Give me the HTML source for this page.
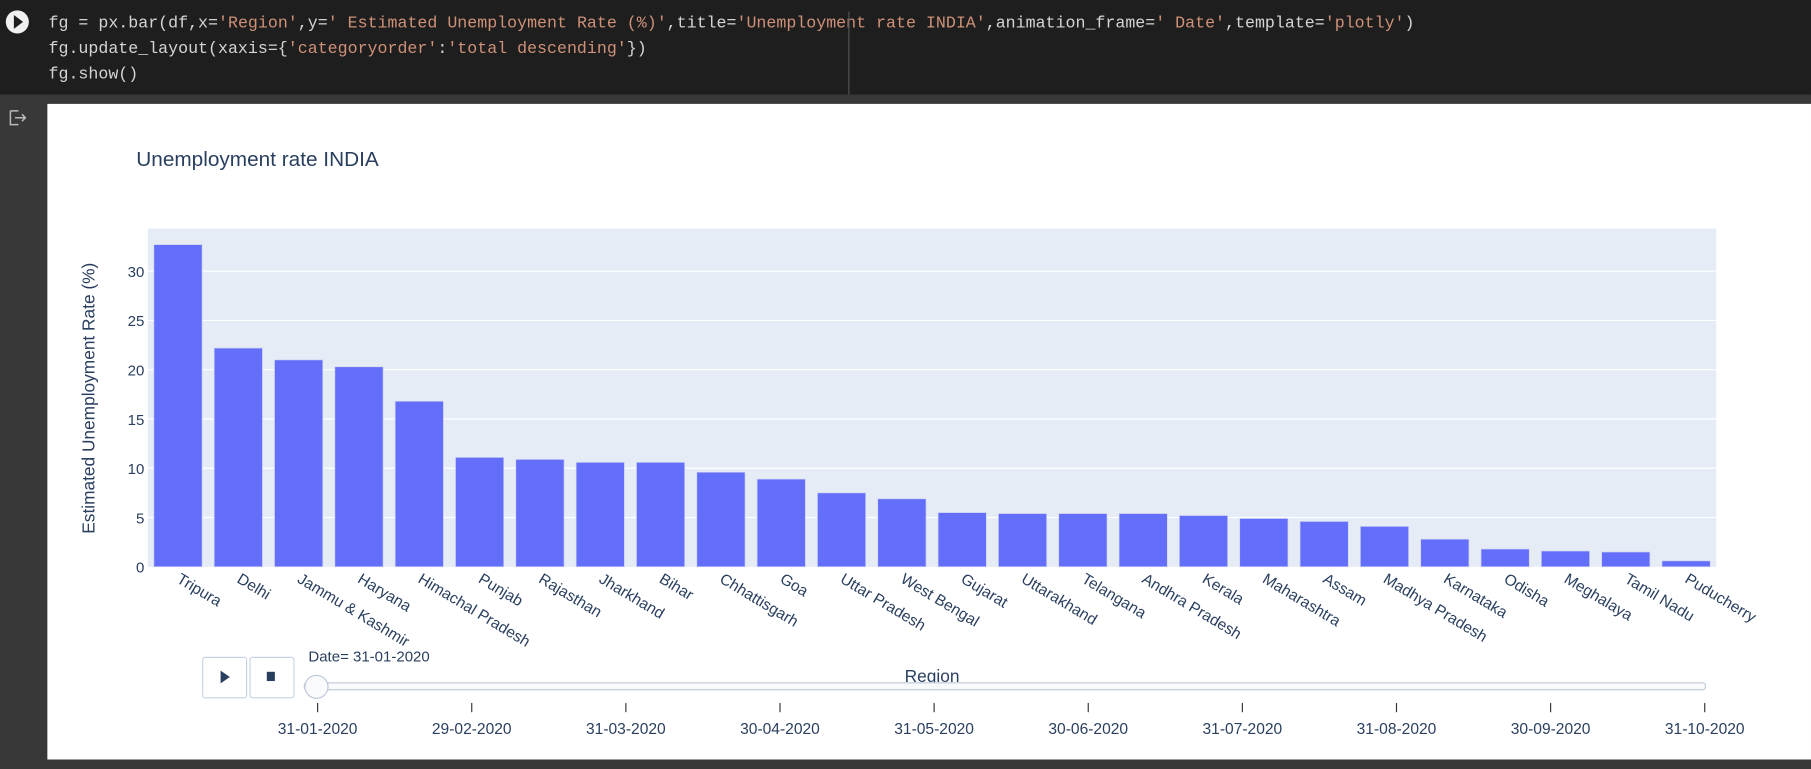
<!DOCTYPE html>
<html><head><meta charset="utf-8"><style>
html,body{margin:0;padding:0;width:1811px;height:763px;overflow:hidden;background:#383838;}
#wrap{position:absolute;left:0;top:0;width:1568px;height:661px;transform:scale(1.15497,1.1543);transform-origin:0 0;}
svg text{font-family:"Liberation Sans",sans-serif;}
.code{font-family:"Liberation Mono",monospace;font-size:14.4px;fill:#d4d4d4;}
.s{fill:#ce9178;}
</style></head><body>
<div id="wrap">
<svg id="svg" width="1568" height="661" xmlns="http://www.w3.org/2000/svg">
<rect x="0" y="0" width="1568" height="82" fill="#1e1e1e"/>
<rect x="0" y="82" width="1568" height="8" fill="#383838"/>
<g><circle cx="15" cy="19" r="10" fill="#f0f0f0"/><polygon points="12,13 12,25 20,19" fill="#1e1e1e"/></g>
<text class="code" x="42" y="24">fg = px.bar(df,x=<tspan class="s">'Region'</tspan>,y=<tspan class="s">' Estimated Unemployment Rate (%)'</tspan>,title=<tspan class="s">'Unemployment rate INDIA'</tspan>,animation_frame=<tspan class="s">' Date'</tspan>,template=<tspan class="s">'plotly'</tspan>)</text>
<text class="code" x="42" y="46">fg.update_layout(xaxis={<tspan class="s">'categoryorder'</tspan>:<tspan class="s">'total descending'</tspan>})</text>
<text class="code" x="42" y="68">fg.show()</text>
<line x1="735" y1="10" x2="735" y2="82" stroke="#555"/>
<g><path d="M9 96 h7 M9 96 v12 h7 M13 102 h9 M19 99 l3 3 l-3 3" stroke="#bbb" fill="none" stroke-width="1.3"/></g>
<rect x="41" y="90" width="1527" height="568" fill="#fff"/>
<text x="118" y="144" font-size="18" fill="#2a3f5f">Unemployment rate INDIA</text>
<rect x="128" y="198" width="1358" height="293" fill="#e5ecf6"/>
<g id="grid"></g><g id="bars"></g><g id="xlabels"></g><g id="ylabels"></g>
<text transform="translate(82,345) rotate(-90)" text-anchor="middle" font-size="15" fill="#2a3f5f">Estimated Unemployment Rate (%)</text>
<text x="807" y="591" text-anchor="middle" font-size="15" fill="#2a3f5f">Region</text>
<g><rect x="175.5" y="569.5" width="38" height="35" rx="2" fill="#fff" stroke="#c8d4e3"/><polygon points="191,581 191,592 199,586.5" fill="#2a3f5f"/></g>
<g><rect x="216.5" y="569.5" width="38" height="35" rx="2" fill="#fff" stroke="#c8d4e3"/><rect x="231" y="582" width="7" height="8" fill="#2a3f5f"/></g>
<text x="267" y="573" font-size="13" fill="#2a3f5f">Date= 31-01-2020</text>
<rect x="263.5" y="591.5" width="1213" height="6" rx="2" fill="#f8fafc" stroke="#bec8d9"/>
<g id="sticks"></g>
<circle cx="274" cy="595" r="10" fill="#f8fafc" stroke="#bec8d9"/>
<rect x="0" y="658" width="1568" height="3" fill="#383838"/>
</svg></div>
<script>
const regions=["Tripura","Delhi","Jammu & Kashmir","Haryana","Himachal Pradesh","Punjab","Rajasthan","Jharkhand","Bihar","Chhattisgarh","Goa","Uttar Pradesh","West Bengal","Gujarat","Uttarakhand","Telangana","Andhra Pradesh","Kerala","Maharashtra","Assam","Madhya Pradesh","Karnataka","Odisha","Meghalaya","Tamil Nadu","Puducherry"];
const rates=[32.7,22.2,21.0,20.3,16.8,11.1,10.9,10.6,10.6,9.6,8.9,7.5,6.9,5.5,5.4,5.4,5.4,5.2,4.9,4.6,4.1,2.8,1.8,1.6,1.5,0.6];
const yTicks=[0,5,10,15,20,25,30];
const dates=["31-01-2020","29-02-2020","31-03-2020","30-04-2020","31-05-2020","30-06-2020","31-07-2020","31-08-2020","30-09-2020","31-10-2020"];
const NS="http://www.w3.org/2000/svg";
const X0=128,X1=1486,Y0=491,Ytop=198,YMAX=34.33;
const slot=(X1-X0)/regions.length;
const xs=i=>X0+slot*(i+0.5);
const ys=v=>Y0-(v/YMAX)*(Y0-Ytop);
function mk(tag,attrs,parent){const e=document.createElementNS(NS,tag);for(const k in attrs)e.setAttribute(k,attrs[k]);document.getElementById(parent).appendChild(e);return e;}
yTicks.forEach(t=>{
 if(t>0){const g=mk('line',{x1:X0,x2:X1,y1:ys(t),y2:ys(t),stroke:'#fff','stroke-width':1},'grid');
 
 }
 const l=mk('text',{x:X0-3,y:ys(t)+5,'text-anchor':'end','font-size':13,fill:'#2a3f5f'},'ylabels');l.textContent=t;
 
 
});
const bw=slot*0.8;
rates.forEach((v,i)=>{
 const b=mk('rect',{x:xs(i)-bw/2,y:ys(v),width:bw,height:Y0-ys(v),fill:'#636efa',stroke:'#d0d4f0','stroke-width':0.6},'bars');
 
 
 const t=mk('text',{transform:`translate(${xs(i)-2},${Y0+13}) rotate(31)`,'font-size':13.5,fill:'#2a3f5f'},'xlabels');t.textContent=regions[i];
 
 
});
const s0=275,s1=1476;
dates.forEach((d,i)=>{
 const x=s0+(s1-s0)*i/(dates.length-1);
 const tk=mk('line',{x1:x,x2:x,y1:609,y2:617,stroke:'#333','stroke-width':1},'sticks');
 
 
 const t=mk('text',{x:x,y:636,'text-anchor':'middle','font-size':13.5,fill:'#2a3f5f'},'sticks');t.textContent=d;
 
 
});
</script>
</body></html>
